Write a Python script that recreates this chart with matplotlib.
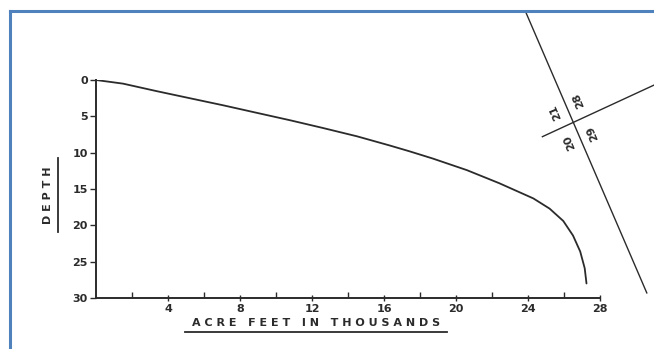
import matplotlib
matplotlib.use("Agg")
import matplotlib.pyplot as plt
from matplotlib.lines import Line2D
from matplotlib.ticker import FixedLocator

# capacity curve: acre-feet (thousands) vs depth
acre_ft = [0.0, 1.5, 3.4, 5.2, 7.1, 8.9, 10.8, 12.6, 14.5, 16.3, 17.4, 18.7,
           20.6, 22.4, 24.3, 25.2, 25.96, 26.5, 26.9, 27.15, 27.25]
depth = [0.0, 0.5, 1.55, 2.5, 3.5, 4.5, 5.55, 6.6, 7.75, 9.0, 9.8, 10.8,
         12.4, 14.2, 16.3, 17.7, 19.4, 21.4, 23.6, 25.9, 28.0]

x_ticks = [4, 8, 12, 16, 20, 24, 28]
y_ticks = [0, 5, 10, 15, 20, 25, 30]

# section-line sketch in the corner (chart data units, drawn outside the axes)
long_line_x = [23.9, 30.6]
long_line_d = [-9.2, 29.3]
short_line_x = [24.8, 31.0]
short_line_d = [7.8, 0.7]
sections = ["21", "28", "20", "29"]
sec_x = [25.5, 26.8, 26.3, 27.6]
sec_d = [4.4, 2.7, 8.5, 7.3]

INK = "#2b2b2b"

fig = plt.figure(figsize=(6.54, 3.49), dpi=100)
ax = fig.add_axes([96 / 654, 1 - 298 / 349, 504 / 654, 218 / 349])

ax.plot(acre_ft, depth, color=INK, lw=1.3, solid_capstyle="round", solid_joinstyle="round")
ax.set_xlim(0, 28)
ax.set_ylim(30, 0)

for s in ("top", "right"):
    ax.spines[s].set_visible(False)
for s in ("left", "bottom"):
    ax.spines[s].set_color(INK)
    ax.spines[s].set_linewidth(1.4)

ax.xaxis.set_major_locator(FixedLocator(x_ticks))
ax.xaxis.set_minor_locator(FixedLocator([2, 6, 10, 14, 18, 22, 26]))
ax.set_xticklabels([str(v) for v in x_ticks], fontweight="bold")
ax.yaxis.set_major_locator(FixedLocator(y_ticks))
ax.set_yticklabels([str(v) for v in y_ticks], fontweight="bold")
ax.tick_params(axis="x", which="major", direction="inout", length=5, width=1,
               colors=INK, labelsize=8, pad=2)
ax.tick_params(axis="x", which="minor", direction="in", length=4, width=1, colors=INK)
ax.tick_params(axis="y", direction="out", length=4, width=1, colors=INK,
               labelsize=8, pad=2)

# axis titles (underlined, spaced lettering like the drawing)
fig.text(316 / 654, 1 - 323 / 349, "A C R E   F E E T   I N   T H O U S A N D S",
         ha="center", va="center", fontsize=8, fontweight="bold", color=INK)
fig.add_artist(Line2D([185 / 654, 447 / 654], [1 - 332 / 349] * 2, color=INK, lw=1.3))
fig.text(48 / 654, 1 - 195 / 349, "D E P T H", rotation=90,
         ha="center", va="center", fontsize=8, fontweight="bold", color=INK)
fig.add_artist(Line2D([58 / 654] * 2, [1 - 158 / 349, 1 - 232 / 349], color=INK, lw=1.3))

# section lines and numbers
ax.plot(long_line_x, long_line_d, color=INK, lw=1, clip_on=False)
ax.plot(short_line_x, short_line_d, color=INK, lw=1, clip_on=False)
for lab, xx, dd in zip(sections, sec_x, sec_d):
    ax.text(xx, dd, lab, rotation=113, ha="center", va="center",
            fontsize=8, fontweight="bold", color=INK, clip_on=False)

# blue frame
blue = "#4f81bd"
fig.add_artist(Line2D([10 / 654, 10 / 654], [0, 1 - 11 / 349], color=blue, lw=2.2))
fig.add_artist(Line2D([10 / 654, 1], [1 - 11 / 349] * 2, color=blue, lw=2.2))

fig.savefig("out.png", dpi=100)
